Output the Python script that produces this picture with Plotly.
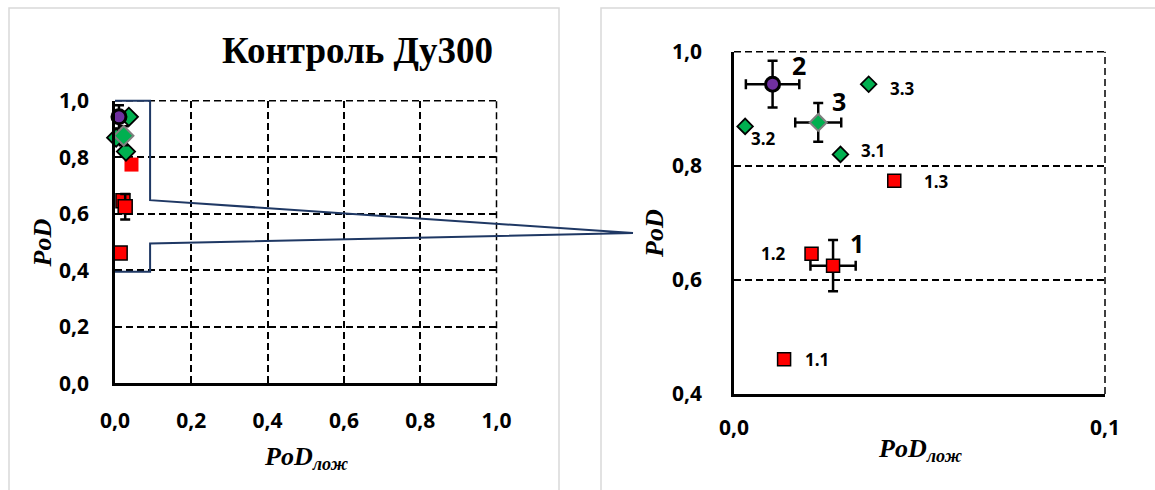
import plotly.graph_objects as go

W, H = 1155, 490

# Individual measurements: group 1 (squares) and group 3 (diamonds)
g1_names = ["1.1", "1.2", "1.3"]
g1_far = [0.0135, 0.0209, 0.0432]
g1_pod = [0.461, 0.646, 0.774]

g3_names = ["3.1", "3.2", "3.3"]
g3_far = [0.0287, 0.0030, 0.0363]
g3_pod = [0.820, 0.869, 0.943]

# Group means with their spreads
mean_names = ["1", "2", "3"]
mean_far = [0.0267, 0.0104, 0.0227]
mean_pod = [0.625, 0.943, 0.876]
mean_far_err = [0.0061, 0.0072, 0.0062]
mean_pod_err = [0.045, 0.041, 0.034]

title_text = "Контроль Ду300"
x_title = "PoD<sub>лож</sub>"
y_title = "PoD"

# ---- layout geometry (pixels -> paper fractions)
def px(x):
    return x / W

def py(y):
    return 1 - y / H

L_DOM_X = [px(115), px(496.5)]
L_DOM_Y = [py(383.3), py(100.7)]
R_DOM_X = [px(734), px(1105)]
R_DOM_Y = [py(394), py(51.7)]

RED, GREEN, PURPLE = "#FF0000", "#00B050", "#7030A0"
NAVY = "#1F3864"
TICK_FONT = dict(family="Open Sans", size=21, color="black", weight="bold")
DASH = "7px,4px"

fig = go.Figure()


def add_points(xa, ya, big):
    s_sq = 14 if big else 13
    s_di = 14 if big else 12
    s_ci = 14
    # group 1 individual points
    fig.add_trace(go.Scatter(
        x=g1_far, y=g1_pod, mode="markers", xaxis=xa, yaxis=ya,
        cliponaxis=False, showlegend=False,
        marker=dict(symbol="square", size=s_sq, color=RED,
                    line=dict(color="black", width=[1.5, 1.5, 0] if big else 1.5)),
    ))
    # group 3 individual points
    fig.add_trace(go.Scatter(
        x=g3_far, y=g3_pod, mode="markers", xaxis=xa, yaxis=ya,
        cliponaxis=False, showlegend=False,
        marker=dict(symbol="diamond", size=s_di, color=GREEN,
                    line=dict(color="black", width=1.8)),
    ))
    # group means with error bars
    styles = [
        dict(symbol="square", size=s_sq, color=RED, line=dict(color="black", width=1.5)),
        dict(symbol="circle", size=s_ci, color=PURPLE, line=dict(color="black", width=3)),
        dict(symbol="diamond", size=s_di + 1, color=GREEN, line=dict(color="#7F7F7F", width=2)),
    ]
    for i in range(len(mean_names)):
        fig.add_trace(go.Scatter(
            x=[mean_far[i]], y=[mean_pod[i]], mode="markers", xaxis=xa, yaxis=ya,
            cliponaxis=False, showlegend=False, marker=styles[i],
            error_x=dict(type="data", array=[mean_far_err[i]], color="black",
                         thickness=2.5, width=5),
            error_y=dict(type="data", array=[mean_pod_err[i]], color="black",
                         thickness=2.5, width=5),
        ))


add_points("x", "y", True)
add_points("x2", "y2", False)

axis_common = dict(
    showline=True, linecolor="black", linewidth=2.5, mirror=False,
    showgrid=True, gridcolor="black", gridwidth=1.5, griddash=DASH,
    zeroline=False, ticks="", tickfont=TICK_FONT, tickformat=".1f",
    automargin=False, fixedrange=True,
)

fig.update_layout(
    width=W, height=H,
    margin=dict(l=0, r=0, t=0, b=0),
    paper_bgcolor="white", plot_bgcolor="white",
    separators=", ",
    showlegend=False,
    xaxis=dict(axis_common, domain=L_DOM_X, range=[0, 1], dtick=0.2,
               anchor="y", ticklabelstandoff=17),
    yaxis=dict(axis_common, domain=L_DOM_Y, range=[0, 1], dtick=0.2,
               anchor="x", ticklabelstandoff=19),
    xaxis2=dict(axis_common, domain=R_DOM_X, range=[0, 0.1], dtick=0.1,
                anchor="y2", ticklabelstandoff=13),
    yaxis2=dict(axis_common, domain=R_DOM_Y, range=[0.4, 1.0], dtick=0.2,
                anchor="x2", ticklabelstandoff=25),
)

# panel frames
for x0, x1 in [(9, 559), (601, 1170)]:
    fig.add_shape(type="rect", xref="paper", yref="paper",
                  x0=px(x0), x1=px(x1), y0=py(500), y1=py(8),
                  line=dict(color="#D9D9D9", width=1.5), layer="below")

# dashed top and right borders of both plot areas
for dx, dy in [(L_DOM_X, L_DOM_Y), (R_DOM_X, R_DOM_Y)]:
    fig.add_shape(type="line", xref="paper", yref="paper",
                  x0=dx[0], x1=dx[1], y0=dy[1], y1=dy[1],
                  line=dict(color="black", width=1.5, dash=DASH), layer="below")
    fig.add_shape(type="line", xref="paper", yref="paper",
                  x0=dx[1], x1=dx[1], y0=dy[0], y1=dy[1],
                  line=dict(color="black", width=1.5, dash=DASH), layer="below")


# zoom callout from the left plot to the right one
def lp(x, y):
    return (L_DOM_X[0] + x * (L_DOM_X[1] - L_DOM_X[0]),
            L_DOM_Y[0] + y * (L_DOM_Y[1] - L_DOM_Y[0]))

tip = (px(633), py(233))
pts = [lp(0, 1.0), lp(0.092, 1.0), lp(0.092, 0.648), tip,
       lp(0.092, 0.495), lp(0.092, 0.395), lp(0, 0.395)]
path = "M " + " L ".join(f"{a:.5f},{b:.5f}" for a, b in pts)
fig.add_shape(type="path", xref="paper", yref="paper", path=path,
              line=dict(color=NAVY, width=2), layer="above")

serif = "Liberation Serif, Times New Roman, serif"
CENTER = dict(xanchor="center", yanchor="middle", showarrow=False,
              xref="paper", yref="paper")

# chart title and axis titles
fig.add_annotation(x=px(357), y=py(50), text=f"<b>{title_text}</b>",
                   font=dict(family=serif, size=37, color="black"), **CENTER)
for cx, cy in [(305.5, 458), (919.5, 450)]:
    fig.add_annotation(x=px(cx), y=py(cy), text=f"<b><i>{x_title}</i></b>",
                       font=dict(family=serif, size=26, color="black"), **CENTER)
for cx, cy in [(42.5, 243), (655, 234)]:
    fig.add_annotation(x=px(cx), y=py(cy), textangle=-90,
                       text=f"<b><i>{y_title}</i></b>",
                       font=dict(family=serif, size=26, color="black"), **CENTER)

# point labels on the zoomed plot
small_off = {"1.1": (33, 0), "1.2": (-38, 0), "1.3": (42, -1),
             "3.1": (33, 4), "3.2": (18, -12), "3.3": (34, -4)}
big_off = {"1": (24, 23), "2": (26, 19), "3": (21, 21)}
for names, xs, ys in [(g1_names, g1_far, g1_pod), (g3_names, g3_far, g3_pod)]:
    for n, xv, yv in zip(names, xs, ys):
        dx, dy = small_off[n]
        fig.add_annotation(x=xv, y=yv, xref="x2", yref="y2", showarrow=False,
                           xanchor="center", yanchor="middle",
                           text=n, xshift=dx, yshift=dy,
                           font=dict(family="Open Sans", size=17, color="black",
                                     weight="bold"))
for n, xv, yv in zip(mean_names, mean_far, mean_pod):
    dx, dy = big_off[n]
    fig.add_annotation(x=xv, y=yv, xref="x2", yref="y2", showarrow=False,
                       xanchor="center", yanchor="middle",
                       text=n, xshift=dx, yshift=dy,
                       font=dict(family="Open Sans", size=25, color="black",
                                 weight="bold"))

fig.write_html("out.html")
